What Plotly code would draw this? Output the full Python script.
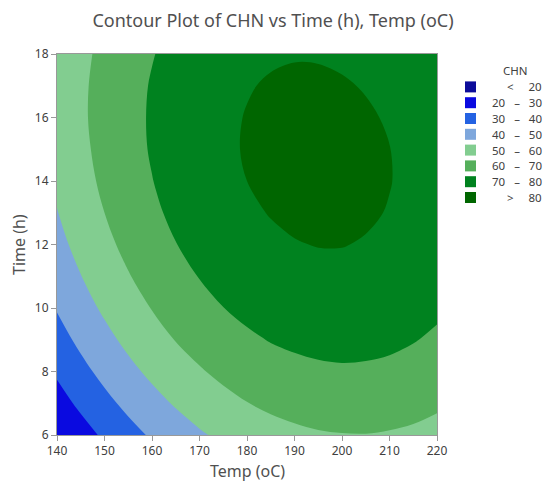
import plotly.graph_objects as go

# Temperature (oC) grid, x axis
temp = [140, 145, 150, 155, 160, 165, 170, 175, 180, 185, 190, 195, 200, 205, 210, 215, 220]
# Time (h) grid, y axis
time = [6, 7, 8, 9, 10, 11, 12, 13, 14, 15, 16, 17, 18]
# CHN response, one row per Time value, one column per Temp value
chn_t6 = [20.2, 26.0, 31.6, 36.6, 41.2, 45.3, 48.9, 51.9, 54.5, 56.6, 58.1, 59.2, 59.7, 59.8, 59.3, 58.4, 56.9]
chn_t7 = [26.0, 32.0, 37.4, 42.4, 46.9, 50.9, 54.4, 57.3, 59.8, 61.8, 63.2, 64.2, 64.6, 64.6, 64.0, 63.0, 61.4]
chn_t8 = [31.4, 37.3, 42.7, 47.6, 52.0, 55.9, 59.2, 62.1, 64.5, 66.4, 67.7, 68.6, 69.0, 68.8, 68.2, 67.0, 65.4]
chn_t9 = [36.3, 42.1, 47.4, 52.2, 56.5, 60.3, 63.5, 66.3, 68.6, 70.4, 71.6, 72.4, 72.7, 72.4, 71.7, 70.4, 68.7]
chn_t10 = [40.6, 46.3, 51.5, 56.2, 60.3, 64.0, 67.2, 69.9, 72.1, 73.8, 74.9, 75.6, 75.8, 75.4, 74.6, 73.3, 71.4]
chn_t11 = [44.2, 49.8, 54.9, 59.5, 63.6, 67.2, 70.3, 72.9, 75.0, 76.6, 77.6, 78.2, 78.3, 77.8, 76.9, 75.5, 73.5]
chn_t12 = [47.3, 52.8, 57.8, 62.3, 66.3, 69.8, 72.8, 75.3, 77.3, 78.7, 79.7, 80.2, 80.2, 79.6, 78.6, 77.1, 75.0]
chn_t13 = [49.7, 55.1, 60.0, 64.5, 68.4, 71.8, 74.6, 77.0, 78.9, 80.3, 81.2, 81.6, 81.5, 80.8, 79.7, 78.1, 75.9]
chn_t14 = [51.6, 56.9, 61.7, 66.0, 69.8, 73.1, 75.9, 78.2, 80.0, 81.3, 82.1, 82.4, 82.2, 81.4, 80.2, 78.5, 76.3]
chn_t15 = [52.8, 58.0, 62.7, 67.0, 70.7, 73.9, 76.6, 78.8, 80.5, 81.7, 82.4, 82.5, 82.2, 81.4, 80.1, 78.3, 75.9]
chn_t16 = [53.4, 58.6, 63.2, 67.3, 70.9, 74.0, 76.6, 78.7, 80.3, 81.4, 82.0, 82.1, 81.7, 80.8, 79.4, 77.5, 75.0]
chn_t17 = [53.5, 58.5, 63.0, 67.0, 70.6, 73.6, 76.1, 78.1, 79.6, 80.6, 81.1, 81.1, 80.6, 79.6, 78.1, 76.0, 73.5]
chn_t18 = [52.9, 57.8, 62.3, 66.2, 69.6, 72.5, 74.9, 76.8, 78.3, 79.2, 79.6, 79.5, 78.9, 77.8, 76.1, 74.0, 71.4]
chn = [chn_t6, chn_t7, chn_t8, chn_t9, chn_t10, chn_t11, chn_t12,
       chn_t13, chn_t14, chn_t15, chn_t16, chn_t17, chn_t18]

x_ticks = [140, 150, 160, 170, 180, 190, 200, 210, 220]
y_ticks = [6, 8, 10, 12, 14, 16, 18]
band_labels = [('<', '20'), ('20', '30'), ('30', '40'), ('40', '50'),
               ('50', '60'), ('60', '70'), ('70', '80'), ('>', '80')]
band_colors = ['#0c0c9a', '#0a0ae0', '#2462e2', '#7ea7dc', '#82cd90', '#55af5b', '#00821f', '#006600']

colorscale = [[i / 7, c] for i, c in enumerate(band_colors)]

fig = go.Figure(go.Contour(
    x=temp, y=time, z=chn,
    contours=dict(start=20, end=80, size=10, coloring='fill', showlines=False),
    colorscale=colorscale, zmin=15, zmax=85, showscale=False,
    line=dict(width=0, smoothing=1.0),
    hovertemplate='Temp %{x}<br>Time %{y}<br>CHN %{z}<extra></extra>',
))

W, H = 546, 482
L, R, T, B = 57, 109, 54, 47
pw, ph = W - L - R, H - T - B


def px(xp):
    return (xp - L) / pw


def py(yp):
    return (H - B - yp) / ph


font = "Noto Sans"
txt = '#404040'
nb = '\u00a0'
shapes = []
ann = []
for k, (c, (lo, hi)) in enumerate(zip(band_colors, band_labels)):
    yc = 86.9 + 15.8 * k
    shapes.append(dict(type='rect', xref='paper', yref='paper',
                       x0=px(465), x1=px(476), y0=py(yc + 5.5), y1=py(yc - 5.5),
                       fillcolor=c, line=dict(width=0)))
    if lo in ('<', '>'):
        label = lo + nb * 5 + hi
    else:
        label = lo + nb * 3 + '–' + nb * 3 + hi
    ann.append(dict(x=px(543), y=py(yc), xref='paper', yref='paper', text=label, showarrow=False,
                    xanchor='right', yanchor='middle', borderpad=0,
                    font=dict(size=11.5, color=txt, family=font)))
ann.append(dict(x=px(515), y=py(71), xref='paper', yref='paper', text='CHN', showarrow=False,
                xanchor='center', yanchor='middle', borderpad=0,
                font=dict(size=11.5, color=txt, family=font)))
ann.append(dict(x=px(247), y=py(471), xref='paper', yref='paper', text='Temp (oC)', showarrow=False,
                xanchor='center', yanchor='middle', borderpad=0,
                font=dict(size=16, color='#505050', family=font)))
ann.append(dict(x=px(19), y=py(245), xref='paper', yref='paper', text='Time (h)', showarrow=False,
                textangle=-90, xanchor='center', yanchor='middle', borderpad=0,
                font=dict(size=16, color='#505050', family=font)))

axis_common = dict(ticks='outside', ticklen=5, tickcolor='#999999', showline=True, linecolor='#999999',
                   linewidth=1, mirror=True, showgrid=False, zeroline=False, automargin=False,
                   tickfont=dict(family=font, size=12, color=txt))

fig.update_layout(
    width=W, height=H, margin=dict(l=L, r=R, t=T, b=B),
    paper_bgcolor='white', plot_bgcolor='white',
    title=dict(text='Contour Plot of CHN vs Time (h), Temp (oC)', x=0.5, xref='container', xanchor='center',
               y=1 - 21 / H, yref='container', yanchor='middle',
               font=dict(family=font, size=18, color='#505050')),
    xaxis=dict(range=[140, 220], tickvals=x_ticks, **axis_common),
    yaxis=dict(range=[6, 18], tickvals=y_ticks, **axis_common),
    shapes=shapes, annotations=ann, showlegend=False,
)
fig.write_html("out.html")
